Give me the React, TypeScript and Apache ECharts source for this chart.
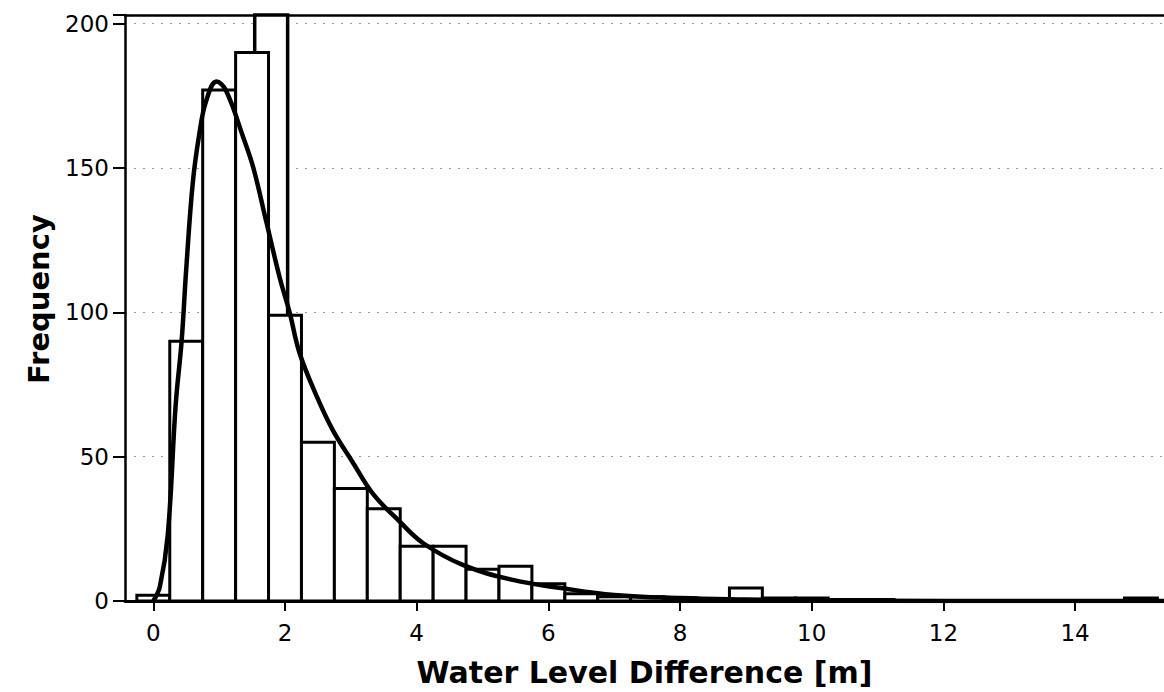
import React, { useEffect, useRef } from "react";
import * as echarts from "echarts";

// Histogram bins (centre of each 0.5 m bin) and counts
const binCenters = [0, 0.5, 1, 1.5, 2, 2.5, 3, 3.5, 4, 4.5, 5, 5.5, 6, 6.5, 7, 7.5, 8, 8.5, 9, 9.5, 10, 10.5, 11, 11.5, 12, 12.5, 13, 13.5, 14, 14.5, 15];
const binCounts = [2, 90, 177, 190, 99, 55, 39, 32, 19, 19, 11, 12, 6, 2.5, 1.5, 1.5, 1, 0.5, 4.5, 1, 1, 0.5, 0.5, 0, 0, 0, 0, 0, 0, 0, 1];

// the misplaced tall bin that sticks out behind the regular ones (clipped at the top)
const hiddenBinCenters = [1.79];
const hiddenBinCounts = [260];

// fitted density curve
const curveX = [0.0, 0.1, 0.22, 0.34, 0.43, 0.5, 0.6, 0.7, 0.8, 0.96, 1.1, 1.36, 1.52, 1.72, 1.92, 2.07, 2.22, 2.48, 2.73, 3.03, 3.34, 3.72, 4.1, 4.7, 5.46, 6.22, 7.0, 8.0, 9.0, 10.0, 12.0, 15.4];
const curveY = [0, 5, 23, 68, 90, 115, 145, 162, 173, 180, 177, 161, 150, 131, 112, 100, 86, 71, 59, 48, 37, 28, 20, 12.5, 7.3, 4.4, 2.1, 1, 0.5, 0.2, 0, 0];

const xTicks = [0, 2, 4, 6, 8, 10, 12, 14];
const yTicks = [0, 50, 100, 150, 200];

const X_MIN = -0.43;
const X_MAX = 15.35;
const Y_MAX = 203;
const BIN_WIDTH = 0.5;

const FONT = "DejaVu Sans";

function makeRender(strokeW: number) {
  return (params: any, api: any) => {
    const c = api.value(0);
    const v = Math.min(api.value(1), Y_MAX);
    const p0 = api.coord([c - BIN_WIDTH / 2, v]);
    const p1 = api.coord([c + BIN_WIDTH / 2, 0]);
    return {
      type: "rect",
      shape: { x: p0[0], y: p0[1], width: p1[0] - p0[0], height: p1[1] - p0[1] },
      style: { fill: "#ffffff", stroke: "#000000", lineWidth: strokeW },
    };
  };
}

export default function App() {
  const ref = useRef<HTMLDivElement>(null);
  useEffect(() => {
    if (!ref.current) return;
    const chart = echarts.init(ref.current, null, { renderer: "svg" });
    const bars = binCenters.map((c, i) => [c, binCounts[i]]);
    const hidden = hiddenBinCenters.map((c, i) => [c, hiddenBinCounts[i]]);
    const curve = curveX.map((x, i) => [x, curveY[i]]);
    chart.setOption({
      animation: false,
      backgroundColor: "#ffffff",
      grid: { left: 125, right: 0, top: 15, bottom: 91, containLabel: false },
      xAxis: [
        {
          type: "value",
          min: X_MIN,
          max: X_MAX,
          name: "Water Level Difference [m]",
          nameLocation: "middle",
          nameGap: 56,
          nameTextStyle: { fontFamily: FONT, fontWeight: "bold", fontSize: 30, color: "#000" },
          axisLine: { show: true, onZero: false, lineStyle: { color: "#000", width: 3 } },
          axisTick: { show: true, length: 10, lineStyle: { color: "#000", width: 2 }, customValues: xTicks },
          axisLabel: { fontFamily: FONT, fontSize: 23, color: "#000", margin: 20, customValues: xTicks },
          splitLine: { show: false },
        },
        {
          type: "value",
          position: "top",
          min: X_MIN,
          max: X_MAX,
          axisLine: { show: true, onZero: false, lineStyle: { color: "#000", width: 2.5 } },
          axisTick: { show: false },
          axisLabel: { show: false },
          splitLine: { show: false },
        },
      ],
      yAxis: {
        type: "value",
        min: 0,
        max: Y_MAX,
        interval: 50,
        name: "Frequency",
        nameLocation: "middle",
        nameGap: 72,
        nameTextStyle: { fontFamily: FONT, fontWeight: "bold", fontSize: 29, color: "#000", padding: [0, 0, 0, 18] },
        axisLine: { show: true, onZero: false, lineStyle: { color: "#000", width: 2.5 } },
        axisTick: { show: true, length: 12, lineStyle: { color: "#000", width: 2 } },
        axisLabel: {
          fontFamily: FONT,
          fontSize: 23,
          color: "#000",
          margin: 16,
          formatter: (v: number) => (yTicks.indexOf(v) >= 0 ? String(v) : ""),
        },
        splitLine: { show: true, lineStyle: { color: "#999", width: 1, type: [2, 7] } },
      },
      series: [
        {
          type: "custom",
          xAxisIndex: 0,
          renderItem: makeRender(3.5),
          encode: { x: 0, y: 1 },
          data: hidden,
          z: 2,
        },
        {
          type: "custom",
          xAxisIndex: 0,
          renderItem: makeRender(3),
          encode: { x: 0, y: 1 },
          data: bars,
          z: 3,
        },
        {
          type: "line",
          xAxisIndex: 0,
          data: curve,
          smooth: 0.4,
          symbol: "none",
          lineStyle: { color: "#000", width: 4.5 },
          z: 4,
        },
      ],
    });
    return () => chart.dispose();
  }, []);
  return (
    <div
      ref={ref}
      style={{ position: "absolute", left: 0, top: 0, width: 1164, height: 692, background: "#fff" }}
    />
  );
}
